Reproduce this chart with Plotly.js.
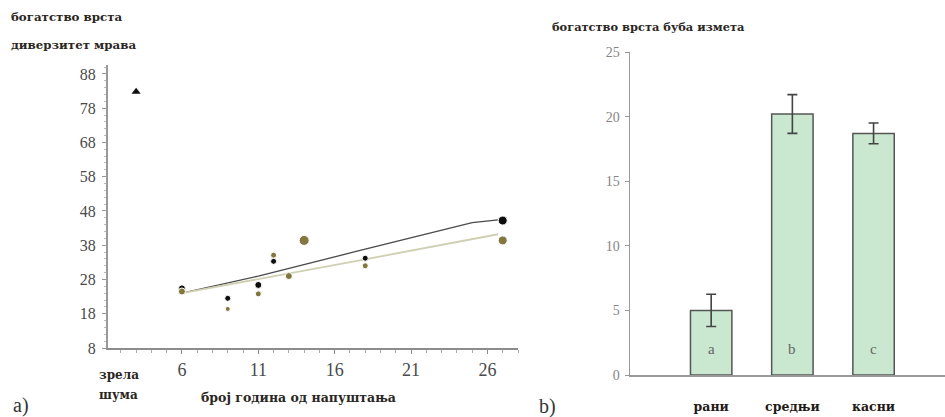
<!DOCTYPE html>
<html><head><meta charset="utf-8">
<script src="https://cdn.plot.ly/plotly-3.0.1.min.js"></script>
<style>html,body{margin:0;padding:0;background:#fff}#c{width:945px;height:417px}</style>
</head><body><div id="c"></div>
<script>
// ---- data: panel a (ants) ----
const years = [6, 9, 11, 12, 13, 14, 18, 27];
const richness = [25.4, 22.5, 26.4, 33.3, 29.3, 39.0, 34.2, 45.2];   // black points
const diversity = [24.5, 19.4, 23.8, 35.1, 29.0, 39.4, 32.0, 39.4];  // olive points
const matureX = [3];
const matureY = [82.8];
const trendX = [6, 11, 17.6, 25, 26.7];
const trendRich = [24.0, 29.0, 36.4, 44.6, 45.4];
const trendDivX = [6, 11, 18, 26.7];
const trendDiv = [24.0, 28.1, 33.9, 41.2];
const yTicksA = [8, 18, 28, 38, 48, 58, 68, 78, 88];
const xTicksA = [6, 11, 16, 21, 26];
// ---- data: panel b (dung beetles) ----
const stages = ['рани', 'средњи', 'касни'];
const beetles = [5.0, 20.2, 18.7];
const beetleErr = [1.25, 1.5, 0.8];
const groupLetters = ['a', 'b', 'c'];

const W = 945, H = 417;
const px = x => x / W, py = y => 1 - y / H;
const serif = '"Liberation Serif", "DejaVu Serif", serif';
const boldSerif = '"DejaVu Serif", "Liberation Serif", serif';

const traces = [
  {x: trendX, y: trendRich, mode: 'lines', line: {color: '#4a4a4a', width: 1.3}, xaxis: 'x', yaxis: 'y', hoverinfo: 'skip'},
  {x: trendDivX, y: trendDiv, mode: 'lines', line: {color: '#cfcfb2', width: 1.8}, xaxis: 'x', yaxis: 'y', hoverinfo: 'skip'},
  {x: years, y: richness, mode: 'markers', marker: {color: '#0d0d0d', opacity: 1, size: [7, 6, 7, 6, 6, 6, 6, 9]}, xaxis: 'x', yaxis: 'y'},
  {x: years, y: diversity, mode: 'markers', marker: {color: '#83773f', opacity: 1, size: [7, 5, 6, 6, 7, 10, 6, 9]}, xaxis: 'x', yaxis: 'y'},
  {x: matureX, y: matureY, mode: 'markers', marker: {symbol: 'triangle-up', color: '#111', size: 8}, xaxis: 'x', yaxis: 'y'},
  {x: stages, y: beetles, type: 'bar', width: 0.51, xaxis: 'x2', yaxis: 'y2',
   marker: {color: '#c9e8cf', line: {color: '#555', width: 1.5}},
   error_y: {type: 'data', array: beetleErr, visible: true, color: '#444', thickness: 1.6, width: 5}}
];

const ann = [];
const addT = (text, x, y, size, opts = {}) => ann.push(Object.assign({
  text, x: px(x), y: py(y), xref: 'paper', yref: 'paper', showarrow: false,
  xanchor: 'left', yanchor: 'middle', font: {family: boldSerif, size, color: '#2a2622', weight: 'bold'}
}, opts));
addT('богатство врста', 9, 17, 11.8);
addT('диверзитет мрава', 9, 45, 11.8);
addT('зрела', 97, 375, 12);
addT('шума', 97, 395, 12);
addT('број година од напуштања', 298, 397, 12.5, {xanchor: 'center'});
addT('a)', 11, 405, 20, {font: {family: serif, size: 20, color: '#333'}});
addT('b)', 537, 406, 20, {font: {family: serif, size: 20, color: '#333'}});
addT('богатство врста буба измета', 550, 27, 11.4);
stages.forEach((s, i) => ann.push({
  text: groupLetters[i], x: s, y: 2, xref: 'x2', yref: 'y2', showarrow: false,
  font: {family: serif, size: 15, color: '#666'}
}));

const layout = {
  width: W, height: H, margin: {l: 0, r: 0, t: 0, b: 0},
  paper_bgcolor: '#fff', plot_bgcolor: '#fff', showlegend: false,
  xaxis: {domain: [px(108), px(518)], range: [1.16, 28.0], anchor: 'y',
    tickvals: xTicksA, showgrid: false, zeroline: false, showline: true,
    linecolor: '#8c8c8c', linewidth: 2, ticks: 'outside', ticklen: 4, tickcolor: '#8c8c8c',
    ticklabelstandoff: 0,
    tickfont: {family: serif, size: 18, color: '#4a4a4a'},
    minor: {ticks: 'outside', ticklen: 3, dtick: 1, tick0: 1, tickcolor: '#aaa', showgrid: false}},
  yaxis: {domain: [py(348), py(65)], range: [8, 90.6], anchor: 'x',
    tickvals: yTicksA, showgrid: false, zeroline: false, showline: true,
    linecolor: '#999', linewidth: 2, ticks: 'outside', ticklen: 4, tickcolor: '#999',
    ticklabelstandoff: 3,
    tickfont: {family: serif, size: 16, color: '#4a4a4a'},
    minor: {ticks: 'outside', ticklen: 2, dtick: 2, tick0: 8, tickcolor: '#bbb', showgrid: false}},
  xaxis2: {domain: [px(630), 1], range: [-1.0, 2.88], anchor: 'y2', type: 'category',
    showgrid: false, zeroline: false, showline: true, linecolor: '#999', linewidth: 1.5,
    ticks: '', ticklabelstandoff: 19,
    tickfont: {family: boldSerif, size: 12.5, color: '#1e1a16', weight: 'bold'}},
  yaxis2: {domain: [py(375), py(52)], range: [0, 25], anchor: 'x2', dtick: 5,
    showgrid: false, zeroline: false, showline: true, linecolor: '#999', linewidth: 1.5,
    ticks: 'outside', ticklen: 4, tickcolor: '#999', ticklabelstandoff: 2,
    tickfont: {family: serif, size: 14, color: '#858585'}},
  annotations: ann
};
Plotly.newPlot('c', traces, layout, {displayModeBar: false, staticPlot: true});
</script></body></html>
